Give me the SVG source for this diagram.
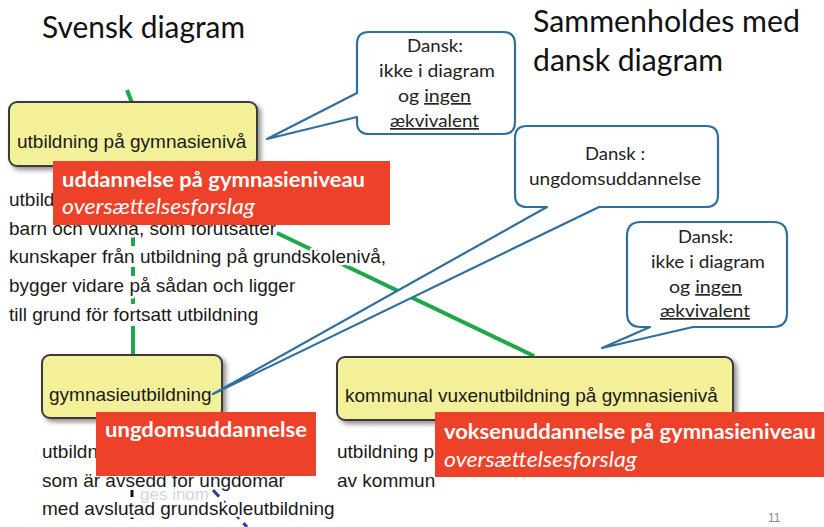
<svg xmlns="http://www.w3.org/2000/svg" width="824" height="527" viewBox="0 0 824 527">
<style>
.cal{font-family:Lato,"Open Sans","Liberation Sans",sans-serif}
.ari{font-family:"Liberation Sans",Arial,sans-serif;font-size:19px;fill:#1a1a1a}
.title{font-size:30px;fill:#111}
.halo{stroke:#fff;stroke-width:5px;paint-order:stroke;stroke-linejoin:round}
.node{fill:#f4f09a;stroke:#3a3a3a;stroke-width:2;filter:url(#sh)}
.bub{fill:#fff;stroke:#2f6f9f;stroke-width:2.2;stroke-linejoin:round}
.btxt{font-size:17px;fill:#222;text-anchor:start}
.red{fill:#ee4129}
.rb{font-size:21px;font-weight:bold;fill:#fff}
.ri{font-size:21px;font-style:italic;fill:#fff}
.green{stroke:#1fa84a;stroke-width:4;fill:none}
</style>
<defs>
<filter id="sh" x="-10%" y="-20%" width="125%" height="150%">
<feDropShadow dx="3" dy="3" stdDeviation="2.5" flood-color="#000" flood-opacity="0.45"/>
</filter>
</defs>
<rect width="824" height="527" fill="#fff"/>

<g id="titles" class="cal">
<text class="cal title" x="42" y="38" textLength="203" lengthAdjust="spacingAndGlyphs">Svensk diagram</text>
<text class="cal title" x="533" y="32" textLength="267" lengthAdjust="spacingAndGlyphs">Sammenholdes med</text>
<text class="cal title" x="533" y="71" textLength="190" lengthAdjust="spacingAndGlyphs">dansk diagram</text>
</g>

<g id="connectors">
<line class="green" x1="127" y1="90" x2="132" y2="103"/>
<path class="green" d="M133,232 V246 M133,267 V276 M133,296 V304 M133,326 V355"/>
<line class="green" x1="277" y1="233" x2="534" y2="356"/>
<line x1="132" y1="490" x2="132" y2="527" stroke="#111" stroke-width="3" stroke-dasharray="7 15"/>
<line x1="213" y1="490" x2="247" y2="527" stroke="#3b3a98" stroke-width="3" stroke-dasharray="9 6"/>
</g>

<g id="node-utbildning">
<rect class="node" x="9" y="102" width="248" height="64" rx="8"/>
<text class="ari" x="17" y="148">utbildning på gymnasienivå</text>
</g>

<g id="node-gymnasieutbildning">
<rect class="node" x="42" y="355" width="180" height="63" rx="8"/>
<text class="ari" x="49" y="401">gymnasieutbildning</text>
</g>

<g id="node-kommunal">
<rect class="node" x="337" y="357" width="396" height="63" rx="8"/>
<text class="ari" x="345" y="402">kommunal vuxenutbildning på gymnasienivå</text>
</g>

<g id="body-text" class="ari">
<text class="ari halo" x="9" y="206">utbild</text>
<text class="ari halo" x="9" y="235">barn och vuxna, som förutsätter</text>
<text class="ari halo" x="9" y="263">kunskaper från utbildning på grundskolenivå,</text>
<text class="ari halo" x="9" y="292">bygger vidare på sådan och ligger</text>
<text class="ari halo" x="9" y="321">till grund för fortsatt utbildning</text>
<text class="ari" x="42" y="458">utbildn</text>
<text class="ari" x="42" y="487">som är avsedd för ungdomar</text>
<text x="140" y="500" font-family="Liberation Sans, sans-serif" font-size="17" fill="#d6d6de">ges inom</text>
<text class="ari halo" x="42" y="515">med avslutad grundskoleutbildning</text>
<text class="ari" x="337" y="458">utbildning p</text>
<text class="ari" x="337" y="487">av kommun</text>
</g>

<g id="callout-1">
<path class="bub" d="M369,32 H503 Q515,32 515,44 V122 Q515,134 503,134 H369 Q357,134 357,122 V117 L267,139 L357,93 V44 Q357,32 369,32 Z"/>
<text class="cal btxt" x="407" y="52" textLength="56" lengthAdjust="spacingAndGlyphs">Dansk:</text>
<text class="cal btxt" x="379" y="77" textLength="116" lengthAdjust="spacingAndGlyphs">ikke i diagram</text>
<text class="cal btxt" x="398" y="102" textLength="73" lengthAdjust="spacingAndGlyphs">og <tspan text-decoration="underline">ingen</tspan></text>
<text class="cal btxt" x="390" y="127" textLength="89" lengthAdjust="spacingAndGlyphs" text-decoration="underline">ækvivalent</text>
</g>

<g id="callout-2">
<path class="bub" d="M527,126 H706 Q718,126 718,138 V195 Q718,207 706,207 H599 L213,394 L547,207 H527 Q515,207 515,195 V138 Q515,126 527,126 Z"/>
<text class="cal btxt" x="585" y="160" textLength="60" lengthAdjust="spacingAndGlyphs">Dansk :</text>
<text class="cal btxt" x="529" y="185" textLength="172" lengthAdjust="spacingAndGlyphs">ungdomsuddannelse</text>
</g>

<g id="callout-3">
<path class="bub" d="M641,222 H773 Q787,222 787,236 V313 Q787,327 773,327 H693 L602,348 L650,327 H641 Q627,327 627,313 V236 Q627,222 641,222 Z"/>
<text class="cal btxt" x="678" y="243" textLength="55" lengthAdjust="spacingAndGlyphs">Dansk:</text>
<text class="cal btxt" x="651" y="268" textLength="114" lengthAdjust="spacingAndGlyphs">ikke i diagram</text>
<text class="cal btxt" x="669" y="293" textLength="73" lengthAdjust="spacingAndGlyphs">og <tspan text-decoration="underline">ingen</tspan></text>
<text class="cal btxt" x="660" y="317" textLength="90" lengthAdjust="spacingAndGlyphs" text-decoration="underline">ækvivalent</text>
</g>

<g id="label-uddannelse">
<rect class="red" x="53" y="161" width="337" height="64"/>
<text class="cal rb" x="62" y="187" textLength="303" lengthAdjust="spacingAndGlyphs">uddannelse på gymnasieniveau</text>
<text class="cal ri" x="62" y="214" textLength="193" lengthAdjust="spacingAndGlyphs">oversættelsesforslag</text>
</g>

<g id="label-ungdom">
<rect class="red" x="96" y="412" width="220" height="64"/>
<text class="cal rb" x="105" y="437" textLength="202" lengthAdjust="spacingAndGlyphs">ungdomsuddannelse</text>
</g>

<g id="label-voksen">
<rect class="red" x="435" y="412" width="389" height="65"/>
<text class="cal rb" x="444" y="439" textLength="372" lengthAdjust="spacingAndGlyphs">voksenuddannelse på gymnasieniveau</text>
<text class="cal ri" x="444" y="467" textLength="193" lengthAdjust="spacingAndGlyphs">oversættelsesforslag</text>
</g>

<text x="768" y="522" font-family="Liberation Sans, sans-serif" font-size="12" fill="#8a8a8a">11</text>
</svg>
